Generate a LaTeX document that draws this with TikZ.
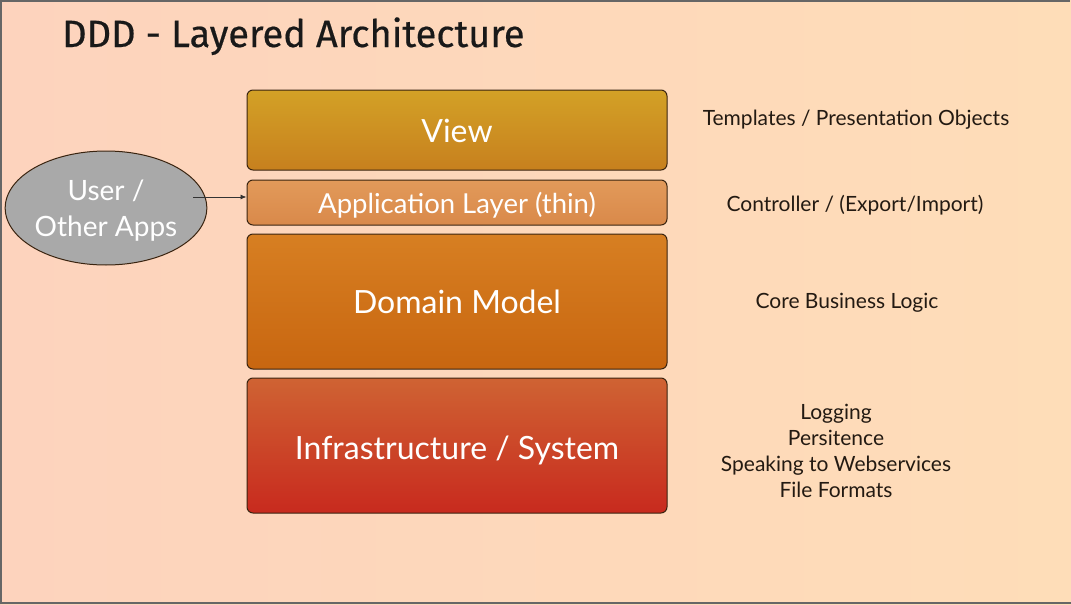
\documentclass[tikz,border=0pt]{standalone}
\usepackage{fontspec}
\setmainfont{Lato}
\newfontfamily\titlefont{Fira Sans}[FakeBold=0.5]
\usetikzlibrary{shapes.geometric,arrows.meta}
\definecolor{bgL}{HTML}{FDD3BD}
\definecolor{bgR}{HTML}{FEDDB8}
\definecolor{edge}{HTML}{3A2410}
\definecolor{viewT}{HTML}{D3A126}
\definecolor{viewB}{HTML}{C7801E}
\definecolor{appT}{HTML}{E29A5A}
\definecolor{appB}{HTML}{D9894A}
\definecolor{domT}{HTML}{D77F22}
\definecolor{domB}{HTML}{C86610}
\definecolor{infT}{HTML}{CF6333}
\definecolor{infB}{HTML}{C82A1E}
\definecolor{userfill}{HTML}{A9A9A9}
\definecolor{sidetext}{HTML}{231A12}
% move the visible text down without changing the node size
\newcommand{\lowertext}[2]{\raisebox{-#1}[\height][\depth]{#2}}
\tikzset{
  layer/.style={draw=edge, line width=1pt, rounded corners=6pt, minimum width=420pt,
    text=white, inner sep=0pt},
  note/.style={text=sidetext, font=\fontsize{21}{26}\selectfont, align=center, inner sep=0pt},
}
\begin{document}
\begin{tikzpicture}[x=1pt,y=-1pt]
  % slide background and frame
  \shade[left color=bgL, right color=bgR] (0,0) rectangle (1071,605);
  \useasboundingbox (0,0) rectangle (1071,605);
  \draw[color={black!60}, line width=2pt] (1,604) -- (1,1) -- (1070,1);
  \draw[color={black!60}, line width=2pt] (0,603) -- (1071,603);

  % title
  \node[anchor=base west, inner sep=0pt, font=\titlefont\fontsize{38}{40}\selectfont, text=black!90]
    (title) at (62,47) {DDD - Layered Architecture};

  % layers
  \node[layer, top color=viewT, bottom color=viewB, minimum height=80pt,
        font=\fontsize{32}{36}\selectfont] (view) at (457,130) {\lowertext{1pt}{View}};
  \node[layer, top color=appT, bottom color=appB, minimum height=45pt,
        font=\fontsize{27.5}{30}\selectfont] (app) at (457,202.5) {\lowertext{3pt}{Application Layer (thin)}};
  \node[layer, top color=domT, bottom color=domB, minimum height=135pt,
        font=\fontsize{32}{34}\selectfont] (dom) at (457,301.5) {Domain Model};
  \node[layer, top color=infT, bottom color=infB, minimum height=135pt,
        font=\fontsize{32}{34}\selectfont] (inf) at (457,445.5) {\lowertext{5pt}{Infrastructure / System}};

  % external actor
  \node[ellipse, draw=edge, line width=1pt, fill=userfill, minimum width=197pt,
        minimum height=114pt, inner sep=0pt, text=white, align=center,
        font=\fontsize{28}{36}\selectfont] (user) at (106,208)
        {\lowertext{3pt}{User /}\\\lowertext{3pt}{Other Apps}};
  \coordinate (userout) at (193,197);
  \draw[-{Latex[length=6pt,width=5pt]}, line width=0.9pt, color=black!80] (userout) -- (userout -| app.west);

  % responsibilities
  \node[note] (viewnote) at (856,120) {Templates / Presentation Objects};
  \node[note] (appnote) at (855,205) {Controller / (Export/Import)};
  \node[note] (domnote) at (847,303) {Core Business Logic};
  \node[note] (infnote) at (836,451) {Logging\\Persitence\\Speaking to Webservices\\File Formats};
\end{tikzpicture}
\end{document}
